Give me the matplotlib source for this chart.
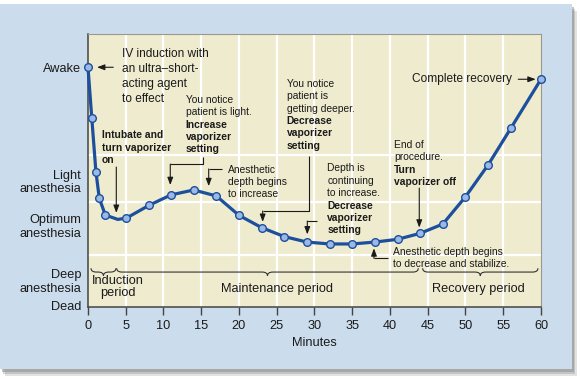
import matplotlib
matplotlib.use("Agg")
import matplotlib.pyplot as plt
from matplotlib.patches import Rectangle, PathPatch
from matplotlib.path import Path

plt.rcParams['font.family'] = ['Liberation Sans', 'DejaVu Sans']

# depth of anesthesia (0 = dead ... ~88 = awake)
minutes = [0, 0.5, 1.05, 1.5, 2.3, 5.1, 8.1, 11, 14, 17, 20, 23, 26, 29, 32, 35, 38, 41, 44, 47, 50, 53, 56, 60]
depth = [87.8, 69.3, 49.5, 39.7, 33.6, 32.5, 37.2, 41.0, 42.8, 40.6, 33.5, 29.0, 25.7, 23.7,
         23.0, 23.0, 23.7, 24.7, 26.9, 30.3, 40.3, 52.0, 65.4, 83.4]
# extra points on the drawn curve (no marker)
curve_extra_x = [3.95]
curve_extra_y = [32.0]

level_pos = [87.8, 46.4, 30.0, 9.9, 0.6]
level_labels = ['Awake', 'Light\nanesthesia', 'Optimum\nanesthesia', 'Deep\nanesthesia', 'Dead']
hgrid = [19.0, 38.4, 55.6]
xticks = list(range(0, 61, 5))

periods = ['Induction\nperiod', 'Maintenance period', 'Recovery period']
period_spans = [(0.4, 3.7), (3.8, 43.75), (44.33, 59.6)]

LINE = '#1c4f9c'
INK = '#1a1a1a'

fig = plt.figure(figsize=(5.8, 3.79), dpi=100)
fig.patch.set_facecolor('white')

# blue panel with a soft shadow
for dx, dy, a in [(0.009, -0.018, 0.25), (0.006, -0.013, 0.35), (0.004, -0.009, 0.5)]:
    fig.patches.append(Rectangle((0 + dx, 0.0264 + dy), 0.986, 0.963, transform=fig.transFigure,
                                 facecolor='#8c8c8c', edgecolor='none', alpha=a, zorder=-3))
fig.patches.append(Rectangle((0, 0.0264), 0.986, 0.963, transform=fig.transFigure,
                             facecolor='#cbdcec', edgecolor='none', zorder=-2))

ax = fig.add_axes([0.1517, 0.1908, 0.781, 0.7195])
ax.set_facecolor('#efebcf')
ax.set_xlim(0, 60)
ax.set_ylim(0, 100)

for x in xticks[1:-1]:
    ax.axvline(x, color='white', lw=1.6, zorder=1)
for y in hgrid:
    ax.axhline(y, color='white', lw=1.6, zorder=1)

# curve + markers
cx = sorted(minutes + curve_extra_x)
cy = [dict(zip(minutes + curve_extra_x, depth + curve_extra_y))[v] for v in cx]
ax.plot(cx, cy, color=LINE, lw=2.3, solid_joinstyle='round', zorder=3, clip_on=False)
ax.plot(minutes, depth, 'o', ms=5.5, mfc='#9bb8e6', mec=LINE, mew=1.0, zorder=4, clip_on=False)

ax.set_xticks(xticks)
ax.set_yticks(level_pos)
ax.set_yticklabels(level_labels, linespacing=1.2)
ax.tick_params(axis='y', length=0, pad=5, labelsize=9.2, labelcolor=INK)
ax.tick_params(axis='x', length=6, width=1, direction='out', pad=3.5, labelsize=9.2,
               labelcolor=INK, color='#444444')
ax.set_xlabel('Minutes', fontsize=9.2, color=INK, labelpad=4)

for s in ['top', 'right']:
    ax.spines[s].set_color('#9a9a8a')
    ax.spines[s].set_linewidth(0.8)
for s in ['left', 'bottom']:
    ax.spines[s].set_color('#444444')
    ax.spines[s].set_linewidth(1.1)


def elbow_arrow(pts):
    xs = [p[0] for p in pts[:-1]]
    ys = [p[1] for p in pts[:-1]]
    if len(xs) > 1:
        ax.plot(xs, ys, color=INK, lw=0.8, zorder=5, solid_capstyle='butt')
    ax.annotate('', xy=pts[-1], xytext=pts[-2],
                arrowprops=dict(arrowstyle='-|>,head_length=0.45,head_width=0.17',
                                color=INK, lw=0.8, shrinkA=0, shrinkB=0), zorder=5)


def note(x, y, normal, bold, size=7.4, step=8.9):
    lines = [(t, 'normal') for t in normal] + [(t, 'bold') for t in bold]
    for i, (t, w) in enumerate(lines):
        ax.annotate(t, xy=(x, y), xytext=(0, -i * step), textcoords='offset points',
                    fontsize=size, fontweight=w, color=INK, ha='left', va='baseline',
                    annotation_clip=False, zorder=6)


# annotations
note(4.46, 91.7, ['IV induction with', 'an ultra–short-', 'acting agent', 'to effect'], [], size=8.6, step=11)
elbow_arrow([(3.35, 87.8), (1.2, 87.8)])

note(1.81, 61.8, [], ['Intubate and', 'turn vaporizer', 'on'])
elbow_arrow([(3.75, 51.2), (3.75, 34.4)])

note(12.94, 74.7, ['You notice', 'patient is light.'], ['Increase', 'vaporizer', 'setting'])
elbow_arrow([(15.19, 54.9), (15.19, 52.3), (10.9, 52.3), (10.9, 44.6)])

note(18.58, 49.2, ['Anesthetic', 'depth begins', 'to increase'], [])
elbow_arrow([(17.79, 50.5), (15.99, 50.5), (15.99, 44.2)])

note(26.3, 80.6, ['You notice', 'patient is', 'getting deeper.'], ['Decrease', 'vaporizer', 'setting'])
elbow_arrow([(29.31, 55.3), (29.31, 35.1), (23.14, 35.1), (23.14, 31.1)])

note(31.7, 49.6, ['Depth is', 'continuing', 'to increase.'], ['Decrease', 'vaporizer', 'setting'])
elbow_arrow([(30.29, 31.4), (29.05, 31.4), (29.05, 26.5)])

note(40.57, 58.2, ['End of', 'procedure.'], ['Turn', 'vaporizer off'])
elbow_arrow([(43.88, 43.5), (43.88, 29.0)])

note(40.44, 19.1, ['Anesthetic depth begins', 'to decrease and stabilize.'], [])
elbow_arrow([(39.77, 17.7), (37.88, 17.7), (37.88, 21.4)])

ax.text(56.12, 83.4, 'Complete recovery', fontsize=8.6, color=INK, ha='right', va='center', zorder=6)
elbow_arrow([(56.99, 83.4), (59.3, 83.4)])


# period braces
def brace(a, b, y0=12.7, h=1.4, d=0.7):
    m = (a + b) / 2
    verts = [(a, y0 + h), (a, y0), (a + d, y0), (m - d, y0), (m, y0), (m, y0 - h),
             (m, y0), (m + d, y0), (b - d, y0), (b, y0), (b, y0 + h)]
    codes = [Path.MOVETO, Path.CURVE3, Path.CURVE3, Path.LINETO, Path.CURVE3, Path.CURVE3,
             Path.CURVE3, Path.CURVE3, Path.LINETO, Path.CURVE3, Path.CURVE3]
    ax.add_patch(PathPatch(Path(verts, codes), facecolor='none', edgecolor='#333333', lw=0.8, zorder=5))


for (a, b) in period_spans:
    brace(a, b)

ax.text(period_spans[0][0] + 0.1, 7.2, periods[0], fontsize=9.2, color=INK, ha='left', va='center',
        multialignment='center', linespacing=0.95, zorder=6)
ax.text(sum(period_spans[1]) / 2 + 1.3, 6.5, periods[1], fontsize=9.2, color=INK, ha='center', va='center', zorder=6)
ax.text(sum(period_spans[2]) / 2 - 0.3, 6.5, periods[2], fontsize=9.2, color=INK, ha='center', va='center', zorder=6)

fig.savefig('out.png', dpi=100, facecolor=fig.get_facecolor())
